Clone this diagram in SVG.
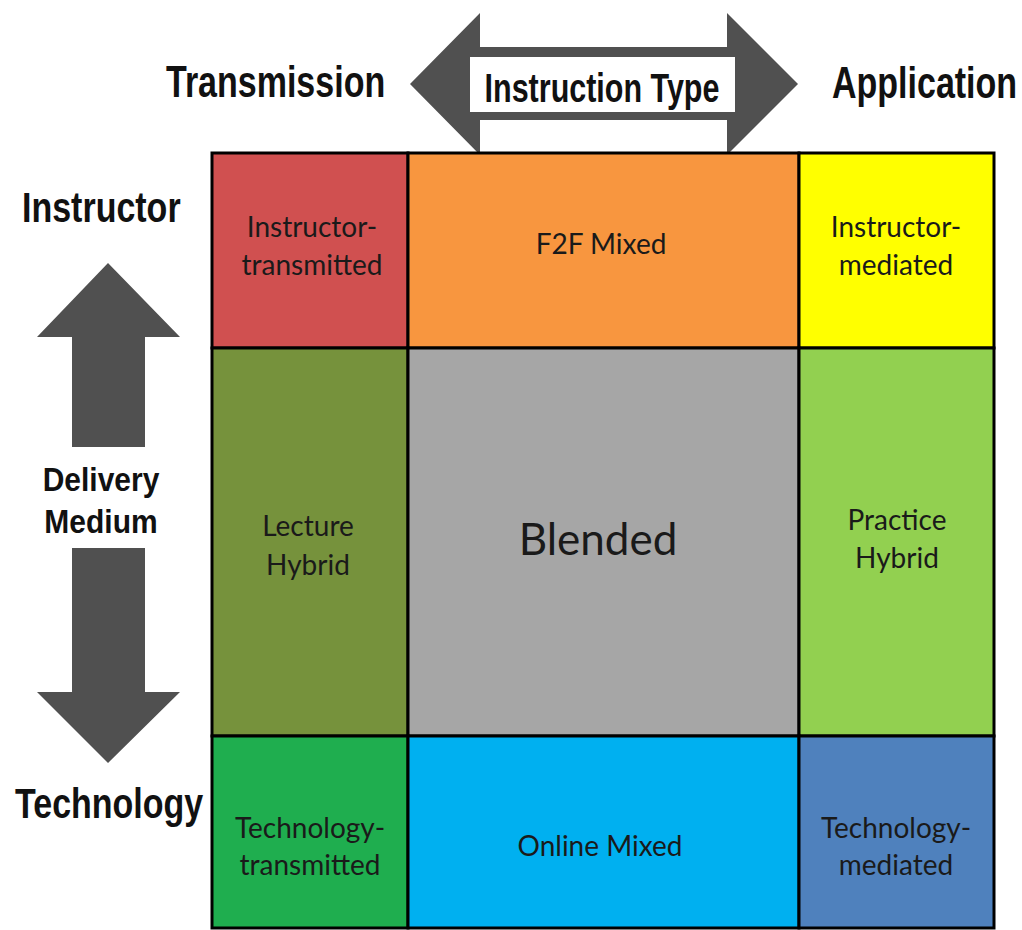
<svg xmlns="http://www.w3.org/2000/svg" width="1022" height="930" viewBox="0 0 1022 930">
<style>
.h{font-family:"Liberation Sans",Arial,sans-serif;font-weight:bold;font-size:34px;fill:#111;}
.c{font-family:Lato,"Open Sans",sans-serif;font-size:28px;fill:#1a1a1a;text-anchor:middle;}
.cell{stroke:#000;stroke-width:3;}
.arr{fill:#505050;}
</style>
<rect width="1022" height="930" fill="#fff"/>
<g id="connectors">
<g id="arrow-instruction-type">
<polygon class="arr" points="410,84 480,13 480,47 727,47 727,13 798,84 727,155 727,120 480,120 480,155"/>
<rect x="470" y="57" width="265" height="55" fill="#fff"/>
<text class="h" transform="translate(602,102) scale(1,1.36)" style="font-size:30.5px" text-anchor="middle">Instruction Type</text>
</g>
<g id="arrow-up">
<polygon class="arr" points="108,263 180,337 145,337 145,447 72,447 72,337 37,337"/>
</g>
<g id="arrow-down">
<polygon class="arr" points="72,548 145,548 145,692 180,692 108,763 37,692 72,692"/>
</g>
</g>
<g id="labels">
<text class="h" transform="translate(166,97) scale(1,1.28)">Transmission</text>
<text class="h" transform="translate(832,98) scale(1,1.28)">Application</text>
<text class="h" transform="translate(22,222) scale(1,1.24)">Instructor</text>
<text class="h" transform="translate(101,491) scale(1,1.1)" style="font-size:30px" text-anchor="middle">Delivery</text>
<text class="h" transform="translate(101,533) scale(1,1.1)" style="font-size:30px" text-anchor="middle">Medium</text>
<text class="h" transform="translate(15,818) scale(1,1.27)">Technology</text>
</g>
<g id="cell-instructor-transmitted">
<rect class="cell" x="212" y="153" width="196" height="195" fill="#d05050"/>
<text class="c" x="312" y="237">Instructor-</text>
<text class="c" x="312" y="275">transmitted</text>
</g>
<g id="cell-f2f-mixed">
<rect class="cell" x="408" y="153" width="391" height="195" fill="#f8963f"/>
<text class="c" x="601" y="254">F2F Mixed</text>
</g>
<g id="cell-instructor-mediated">
<rect class="cell" x="799" y="153" width="195" height="195" fill="#ffff00"/>
<text class="c" x="896" y="237">Instructor-</text>
<text class="c" x="896" y="275">mediated</text>
</g>
<g id="cell-lecture-hybrid">
<rect class="cell" x="212" y="348" width="196" height="388" fill="#76923c"/>
<text class="c" x="308" y="536">Lecture</text>
<text class="c" x="308" y="575">Hybrid</text>
</g>
<g id="cell-blended">
<rect class="cell" x="408" y="348" width="391" height="388" fill="#a6a6a6"/>
<text class="c" x="598" y="555" style="font-size:44px">Blended</text>
</g>
<g id="cell-practice-hybrid">
<rect class="cell" x="799" y="348" width="195" height="388" fill="#92d050"/>
<text class="c" x="897" y="530">Practice</text>
<text class="c" x="897" y="568">Hybrid</text>
</g>
<g id="cell-technology-transmitted">
<rect class="cell" x="212" y="736" width="196" height="192" fill="#1fae4f"/>
<text class="c" x="310" y="838">Technology-</text>
<text class="c" x="310" y="875">transmitted</text>
</g>
<g id="cell-online-mixed">
<rect class="cell" x="408" y="736" width="391" height="192" fill="#00b0f0"/>
<text class="c" x="600" y="856">Online Mixed</text>
</g>
<g id="cell-technology-mediated">
<rect class="cell" x="799" y="736" width="195" height="192" fill="#4f81bd"/>
<text class="c" x="896" y="838">Technology-</text>
<text class="c" x="896" y="875">mediated</text>
</g>
</svg>
